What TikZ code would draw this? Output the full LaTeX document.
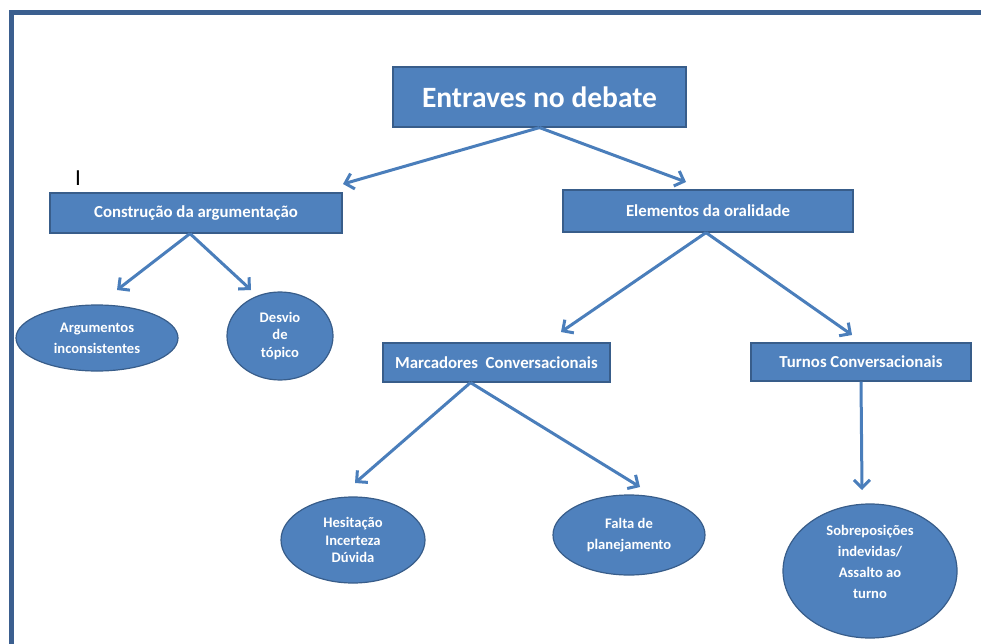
\documentclass[tikz,border=0pt]{standalone}
\usepackage{fontspec}
\setmainfont{Carlito}
\usetikzlibrary{arrows.meta,shapes.geometric}
\definecolor{boxfill}{HTML}{4F81BD}
\definecolor{boxline}{HTML}{385D8A}
\definecolor{arrcol}{HTML}{4A7EBB}
\definecolor{framecol}{HTML}{3B5F8F}
\tikzset{
  box/.style={draw=boxline, line width=1.2pt, fill=boxfill, text=white,
    font=\bfseries\fontsize{16.8}{18}\selectfont, inner sep=0pt, anchor=center},
  oval/.style={ellipse, draw=boxline, line width=1.2pt, fill=boxfill, text=white,
    font=\bfseries\fontsize{14.6}{21}\selectfont, inner sep=0pt, align=center},
  tightoval/.style={oval, font=\bfseries\fontsize{14.6}{17.5}\selectfont},
  arr/.style={draw=arrcol, line width=3pt,
    -{Straight Barb[length=8pt,width=16pt,line width=3pt]}}
}
\begin{document}
\begin{tikzpicture}[x=1pt,y=-1pt]
\useasboundingbox (0,0) rectangle (981,644);
% outer frame
\draw[framecol, line width=5pt] (11,650) -- (11,12.5) -- (990,12.5);

% rectangular topic boxes
\node[box, minimum width=293, minimum height=60,
  font=\bfseries\fontsize{29.5}{32}\selectfont] (top) at (539.5,97) {Entraves no debate};
\node[box, minimum width=292, minimum height=40] (cons) at (196,213) {Construção da argumentação};
\node[box, minimum width=290, minimum height=42] (elem) at (708,211) {Elementos da oralidade};
\node[box, minimum width=227, minimum height=39] (marc) at (496.5,362.5) {Marcadores\ \ Conversacionais};
\node[box, minimum width=220, minimum height=38] (turn) at (861,362) {Turnos Conversacionais};

% elliptical leaves
\node[oval, minimum width=162, minimum height=66] (arg) at (97,338) {Argumentos\\inconsistentes};
\node[tightoval, minimum width=106, minimum height=88] (desv) at (280,336) {Desvio\\de\\tópico};
\node[tightoval, minimum width=144, minimum height=86] (hes) at (353,540) {Hesitação\\Incerteza\\Dúvida};
\node[oval, minimum width=152, minimum height=80] (falta) at (629,535) {Falta de\\planejamento};
% extra text depth lifts the four lines a little above the ellipse centre
\node[oval, minimum width=174, minimum height=134, text depth=17.6pt] (sob) at (870,571)
  {Sobreposições\\indevidas/\\Assalto ao\\turno};

% stray mark
\node[font=\fontsize{23}{24}\selectfont, inner sep=0pt] (mark) at (78,178) {I};

% arrow end points
\coordinate (t1) at (343,184);
\coordinate (t2) at (686,182);
\coordinate (t3) at (117,290);
\coordinate (t4) at (251,290);
\coordinate (t5) at (561,332);
\coordinate (t6) at (852,335);
\coordinate (t7) at (355,483);
\coordinate (t8) at (640,487);
\coordinate (t9) at (862,490);

% connectors
\draw[arr] (top.south) -- (t1);
\draw[arr] (top.south) -- (t2);
\draw[arr] ([xshift=-6]cons.south) -- (t3);
\draw[arr] ([xshift=-6]cons.south) -- (t4);
\draw[arr] ([xshift=-2]elem.south) -- (t5);
\draw[arr] ([xshift=-2]elem.south) -- (t6);
\draw[arr] ([xshift=-26]marc.south) -- (t7);
\draw[arr] ([xshift=-26]marc.south) -- (t8);
\draw[arr] (turn.south) -- (t9);
\end{tikzpicture}
\end{document}
